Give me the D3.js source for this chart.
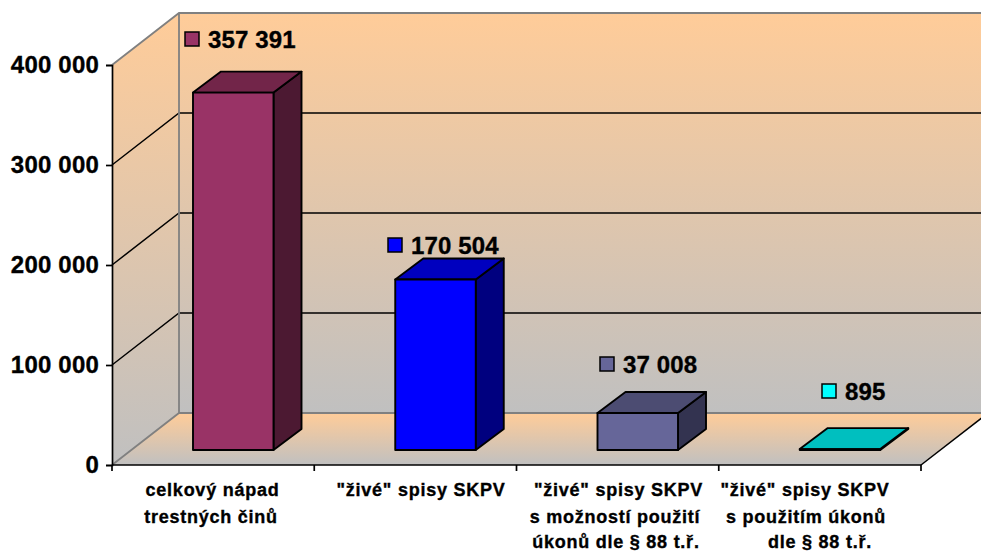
<!DOCTYPE html>
<html><head><meta charset="utf-8">
<script src="https://cdnjs.cloudflare.com/ajax/libs/d3/7.8.5/d3.min.js"></script>
<style>html,body{margin:0;padding:0;background:#fff}svg{display:block}
text{font-family:"Liberation Sans",Arial,sans-serif;font-weight:bold;fill:#000;stroke:#000;stroke-width:.35}</style>
</head><body><div id="c"></div>
<script>
const categories=[["celkový nápad","trestných činů"],["\"živé\" spisy SKPV"],["\"živé\" spisy SKPV","s možností použití","úkonů dle § 88 t.ř."],["\"živé\" spisy SKPV","s použitím úkonů","dle § 88 t.ř."]];
const values=[357391,170504,37008,895];
const valueLabels=["357 391","170 504","37 008","895"];
const yTicks=[0,100000,200000,300000,400000];
const yTickLabels=["0","100 000","200 000","300 000","400 000"];
const colors=["#993366","#0000FF","#666699","#00FFFF"];
const topColors=["#722549","#0000BF","#4C4C72","#00BFBF"];
const sideColors=["#4C1932","#00007F","#333350","#007F7F"];
const frontColors=["#993366","#0000FF","#666699","#00BFBF"];
const W=981,H=552;
const svg=d3.select("#c").append("svg").attr("width",W).attr("height",H);
const x=d3.scaleBand().domain(d3.range(4)).range([112,921]);
const y=d3.scaleLinear().domain([0,400000]).range([465,65]);
const dep={x:67,y:-52}, barDep={x:28,y:-21}, base=15, barLeft=81, barW=80.5;
const keyLeft=[185,388,600,822], keyMid=[39,245,364,391];
const labelMid=[[212.5,211],[421],[618.5,615,616],[805,806,820]];
const labelBase=[496,522.5,548];
const defs=svg.append("defs");
function grad(id,c1,c2){const g=defs.append("linearGradient").attr("id",id).attr("x1",0).attr("y1",0).attr("x2",0).attr("y2",1);
 g.append("stop").attr("offset",0).attr("stop-color",c1);g.append("stop").attr("offset",1).attr("stop-color",c2);}
grad("wall","#FFCC99","#C0C0C0");grad("floor","#FFCC99","#C0C0C0");
const pts=a=>a.map(p=>p.join(",")).join(" ");
const x0=x.range()[0],x1=x.range()[1],y0=y(0),yT=y(400000);
svg.append("rect").attr("x",x0+dep.x).attr("y",yT+dep.y).attr("width",W-x0-dep.x+5).attr("height",y0-yT).attr("fill","url(#wall)");
svg.append("polygon").attr("points",pts([[x0,yT],[x0+dep.x,yT+dep.y],[x0+dep.x,y0+dep.y],[x0,y0]])).attr("fill","url(#wall)");
svg.append("polygon").attr("points",pts([[x0,y0],[x0+dep.x,y0+dep.y],[x1+dep.x,y0+dep.y],[x1,y0]])).attr("fill","url(#floor)");
yTicks.slice(1,4).forEach(t=>{
 svg.append("path").attr("d",`M${x0},${y(t)}L${x0+dep.x},${y(t)+dep.y}L${W+5},${y(t)+dep.y}`).attr("fill","none").attr("stroke","#000").attr("stroke-width",1.5);
});
svg.append("path").attr("d",`M${x0},${yT}L${x0+dep.x},${yT+dep.y}L${W+5},${yT+dep.y}M${x0+dep.x},${yT+dep.y}V${y0+dep.y}M${x0},${y0}L${x0+dep.x},${y0+dep.y}L${W+5},${y0+dep.y}`).attr("fill","none").attr("stroke","#808080").attr("stroke-width",1.8);
svg.append("line").attr("x1",x1).attr("y1",y0).attr("x2",x1+dep.x).attr("y2",y0+dep.y).attr("stroke","#000").attr("stroke-width",1.5);
values.forEach((v,i)=>{
 const l=x(i)+barLeft,r=l+barW,b=y(0)-base,t=y(v)-base,dx=barDep.x,dy=barDep.y;
 const g=svg.append("g").attr("stroke","#000").attr("stroke-width",1.9).attr("stroke-linejoin","round");
 g.append("polygon").attr("points",pts([[r,b],[r+dx,b+dy],[r+dx,t+dy],[r,t]])).attr("fill",sideColors[i]);
 g.append("polygon").attr("points",pts([[l,t],[l+dx,t+dy],[r+dx,t+dy],[r,t]])).attr("fill",topColors[i]);
 g.append("rect").attr("x",l).attr("y",t).attr("width",barW).attr("height",b-t).attr("fill",frontColors[i]);
 const kx=keyLeft[i],ky=keyMid[i];
 svg.append("rect").attr("x",kx).attr("y",ky-7).attr("width",14).attr("height",14).attr("fill",colors[i]).attr("stroke","#000").attr("stroke-width",1.5);
 svg.append("text").attr("x",kx+23).attr("y",ky+9).attr("font-size",24).attr("letter-spacing",0.15).text(valueLabels[i]);
});
const yAxis=d3.axisLeft(y).tickValues(yTicks).tickFormat((d,i)=>yTickLabels[i]).tickSizeOuter(0).tickSize(6).tickPadding(7);
const ga=svg.append("g").attr("transform",`translate(${x0},0)`).call(yAxis);
ga.selectAll("path,line").attr("stroke","#000").attr("stroke-width",1.7);
ga.selectAll("text").attr("font-size",24).attr("font-family",null).attr("dy",7.5).attr("letter-spacing",0.2);
const gx=svg.append("g");
gx.append("line").attr("x1",x0).attr("x2",x1).attr("y1",y0).attr("y2",y0).attr("stroke","#000").attr("stroke-width",1.7);
d3.range(5).map(i=>x0+i*x.step()).forEach(p=>gx.append("line").attr("x1",p).attr("x2",p).attr("y1",y0).attr("y2",y0+6).attr("stroke","#000").attr("stroke-width",1.7));
categories.forEach((c,i)=>{
 c.forEach((s,j)=>svg.append("text").attr("x",labelMid[i][j]).attr("y",labelBase[j]).attr("text-anchor","middle").attr("font-size",18).attr("letter-spacing",0.75).text(s));
});
</script></body></html>
